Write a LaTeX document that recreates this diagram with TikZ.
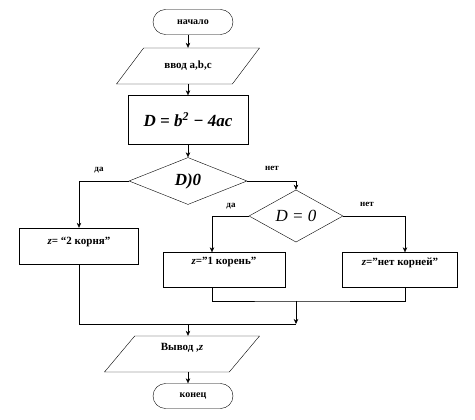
\documentclass[tikz,border=0pt]{standalone}
\usepackage{fontspec}
\setmainfont{Liberation Serif}
\usetikzlibrary{arrows.meta,shapes.geometric,shapes.misc}

\begin{document}
\begin{tikzpicture}[x=1pt,y=-1pt,
  term/.style={draw,rounded rectangle,minimum width=84pt,minimum height=25pt,inner sep=2pt,font=\fontsize{10}{12}\selectfont\bfseries},
  io/.style={draw,trapezium,trapezium stretches body,text height=8pt,font=\fontsize{11}{13}\selectfont\bfseries},
  proc/.style={draw,font=\fontsize{11}{13}\selectfont\bfseries},
  cond/.style={draw,diamond,inner sep=0pt,font=\fontsize{17}{20}\selectfont\itshape},
  lbl/.style={font=\fontsize{9}{10}\selectfont\bfseries},
  arr/.style={-{Stealth[length=5pt,width=4.5pt]}}]
  \useasboundingbox (0,0) rectangle (475,420);
  \node[term] (start) at (193,22) {начало};
  \node[io,trapezium left angle=53,trapezium right angle=127,minimum width=143pt,text depth=3pt,inner ysep=12.5pt] (inp) at (188,66) {ввод a,b,c};
  \node[proc,minimum width=120pt,minimum height=49pt,font=\fontsize{17}{20}\selectfont\bfseries\itshape] (calc) at (188,120) {D = b\textsuperscript{2} − 4ac};
  \node[cond,minimum width=118pt,minimum height=47pt,font=\fontsize{17}{20}\selectfont\bfseries\itshape] (gt) at (188,181) {D)0};
  \node[cond,minimum width=94pt,minimum height=48pt] (eq) at (296,216) {D = 0};
  \node[proc,minimum width=119pt,minimum height=36pt,text depth=10pt] (two) at (79,246) {\textit{z}= “2 корня”};
  \node[proc,minimum width=122pt,minimum height=35pt,text depth=19pt] (one) at (224,270) {\textit{z}=”1 корень”};
  \node[proc,minimum width=115pt,minimum height=35pt,text depth=17pt] (none) at (400,270) {\textit{z}=”нет корней”};
  \node[io,trapezium left angle=50,trapezium right angle=130,minimum width=155pt,text depth=14pt,inner ysep=7pt] (outp) at (182,354) {Вывод ,\textit{z}};
  \node[term] (stop) at (193,396) {конец};
  % branch labels
  \node[lbl] (yes1) at (99,170) {да};
  \node[lbl] (no1) at (272,168) {нет};
  \node[lbl] (yes2) at (231,206) {да};
  \node[lbl] (no2) at (367,204) {нет};
  % joins
  \coordinate (j1) at (296,301);
  \coordinate (j2) at (296,324);
  \coordinate (j3) at (188,324);
  \draw[arr] (inp.north |- start.south) -- (inp.north);
  \draw[arr] (inp.south -| calc.north) -- (calc.north);
  \draw[arr] (calc) -- (gt);
  \draw[arr] (gt.west) -| (two.north);
  \draw[arr] (gt.east) -| (eq.north);
  \draw[arr] (eq.west) -| ([xshift=-12pt]one.north);
  \draw[arr] (eq.east) -| ([xshift=5pt]none.north);
  \draw ([xshift=-12pt]one.south) |- (j1) -| ([xshift=5pt]none.south);
  \draw[arr] (j1) -- (j2);
  \draw (two.south) |- (j2);
  \draw[arr] (j3) -- (j3 |- outp.north);
  \draw[arr] (j3 |- outp.south) -- (j3 |- stop.north);
\end{tikzpicture}
\end{document}
